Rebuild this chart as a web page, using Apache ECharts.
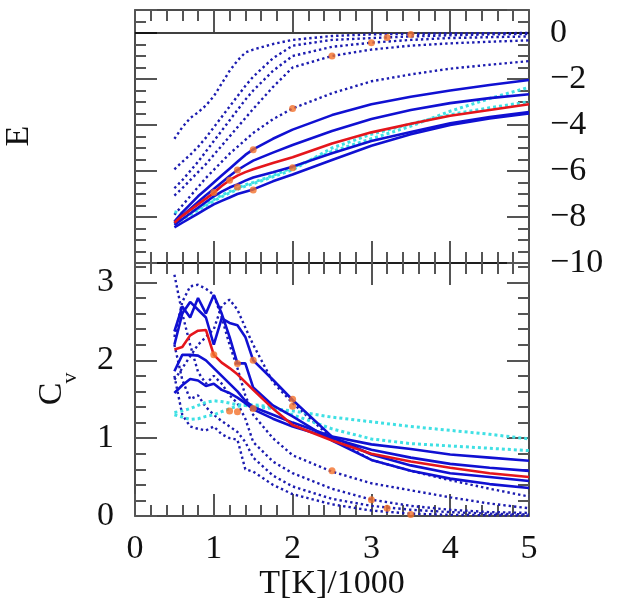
<!DOCTYPE html>
<html lang="en">
<head>
<meta charset="UTF-8">
<title>E and Cv vs T</title>
<script src="https://cdn.jsdelivr.net/npm/echarts@6/dist/echarts.min.js"></script>
<style>
    * { margin: 0; padding: 0; }
    #chart { width: 633px; height: 616px; background: #fff; }
</style>
</head>
<body>
<div id="chart"></div>
<script>
    // temperatures (T[K]/1000)
    var xs = [0.5, 0.6, 0.7, 0.8, 0.9, 1.0, 1.1, 1.2, 1.3, 1.4, 1.5, 1.75, 2.0, 2.5, 3.0, 3.5, 4.0, 4.5, 5.0];

    // energy, top panel
    var eDot1 = [-4.6, -4.1, -3.7, -3.45, -3.15, -2.75, -2.2, -1.65, -1.2, -0.85, -0.72, -0.48, -0.3, -0.13, -0.06, -0.04, -0.02, -0.01, 0.0];
    var eDot2 = [-5.93, -5.6, -5.3, -4.95, -4.55, -4.1, -3.65, -3.2, -2.75, -2.3, -1.9, -1.1, -0.55, -0.3, -0.22, -0.15, -0.1, -0.06, -0.04];
    var eDot3 = [-6.75, -6.4, -6.0, -5.6, -5.15, -4.7, -4.25, -3.8, -3.35, -2.9, -2.5, -1.65, -1.0, -0.6, -0.42, -0.3, -0.22, -0.18, -0.15];
    var eDot4 = [-7.07, -6.75, -6.4, -6.05, -5.7, -5.3, -4.9, -4.5, -4.1, -3.7, -3.3, -2.35, -1.5, -1.0, -0.72, -0.55, -0.45, -0.38, -0.32];
    var eDot5 = [-7.9, -7.5, -7.1, -6.7, -6.3, -5.95, -5.6, -5.25, -4.95, -4.65, -4.35, -3.75, -3.28, -2.62, -2.1, -1.8, -1.55, -1.38, -1.22];
    var eSol1 = [-8.2, -7.8, -7.45, -7.1, -6.8, -6.5, -6.2, -5.9, -5.6, -5.3, -5.06, -4.6, -4.2, -3.57, -3.1, -2.77, -2.5, -2.26, -2.04];
    var eSol2 = [-8.27, -7.95, -7.65, -7.35, -7.05, -6.78, -6.5, -6.22, -5.96, -5.75, -5.55, -5.2, -4.87, -4.26, -3.74, -3.35, -3.05, -2.83, -2.66];
    var eSol3 = [-8.35, -8.1, -7.85, -7.6, -7.35, -7.1, -6.9, -6.72, -6.58, -6.42, -6.28, -6.05, -5.81, -5.23, -4.7, -4.3, -3.92, -3.65, -3.44];
    var eSol4 = [-8.45, -8.25, -8.05, -7.85, -7.65, -7.45, -7.3, -7.15, -7.0, -6.9, -6.8, -6.45, -6.15, -5.52, -4.9, -4.4, -4.0, -3.72, -3.5];
    var eRed = [-8.25, -7.95, -7.7, -7.45, -7.2, -6.95, -6.65, -6.4, -6.2, -6.05, -5.92, -5.65, -5.4, -4.8, -4.32, -3.95, -3.6, -3.35, -3.1];
    var eCyan1 = [-7.77, -7.85, -7.8, -7.65, -7.45, -7.25, -7.05, -6.9, -6.75, -6.6, -6.5, -6.2, -5.85, -5.15, -4.6, -4.05, -3.4, -2.85, -2.36];
    var eCyan2 = [-8.3, -8.1, -7.9, -7.7, -7.5, -7.3, -7.12, -6.95, -6.8, -6.66, -6.55, -6.25, -5.95, -5.0, -4.4, -3.95, -3.55, -3.25, -2.99];

    // specific heat, bottom panel
    var cvDot1 = [1.8, 1.3, 1.15, 1.12, 1.1, 1.15, 1.05, 1.0, 0.98, 0.6, 0.57, 0.4, 0.28, 0.15, 0.07, 0.03, 0.015, 0.01, 0.005];
    var cvDot2 = [2.2, 1.75, 1.5, 1.55, 1.4, 1.3, 1.22, 1.15, 1.08, 0.95, 0.75, 0.52, 0.38, 0.22, 0.13, 0.08, 0.05, 0.03, 0.02];
    var cvDot3 = [3.1, 2.6, 2.2, 1.85, 1.7, 1.8, 1.7, 1.55, 1.45, 1.25, 0.95, 0.7, 0.55, 0.35, 0.21, 0.13, 0.08, 0.05, 0.04];
    var cvDot4 = [2.3, 2.75, 2.95, 2.97, 2.92, 2.84, 2.55, 2.2, 1.9, 1.55, 1.3, 1.0, 0.78, 0.57, 0.42, 0.33, 0.24, 0.16, 0.1];
    var cvDot5 = [1.75, 1.9, 2.05, 2.2, 2.3, 2.4, 2.7, 2.78, 2.65, 2.42, 2.2, 1.72, 1.45, 1.0, 0.72, 0.58, 0.46, 0.35, 0.25];
    var cvSolA = [2.37, 2.69, 2.55, 2.8, 2.6, 2.84, 2.6, 2.3, 1.96, 1.96, 1.65, 1.42, 1.28, 0.97, 0.72, 0.58, 0.48, 0.41, 0.36];
    var cvSolB = [2.2, 2.6, 2.75, 2.65, 2.55, 2.2, 2.54, 2.48, 2.45, 2.3, 2.0, 1.75, 1.49, 1.02, 0.79, 0.65, 0.55, 0.5, 0.45];
    var cvSolC = [1.86, 2.07, 2.07, 2.06, 2.0, 1.9, 1.8, 1.7, 1.6, 1.48, 1.4, 1.3, 1.2, 1.02, 0.92, 0.86, 0.79, 0.75, 0.71];
    var cvSolD = [1.58, 1.68, 1.76, 1.74, 1.67, 1.7, 1.62, 1.58, 1.52, 1.45, 1.37, 1.25, 1.15, 1.0, 0.85, 0.75, 0.67, 0.62, 0.58];
    var cvRed = [2.14, 2.17, 2.32, 2.38, 2.39, 2.07, 1.97, 1.9, 1.82, 1.72, 1.62, 1.38, 1.17, 0.97, 0.8, 0.7, 0.62, 0.55, 0.5];
    var cvCyan1 = [1.33, 1.35, 1.38, 1.42, 1.46, 1.48, 1.47, 1.45, 1.43, 1.42, 1.41, 1.38, 1.35, 1.27, 1.21, 1.15, 1.1, 1.05, 0.99];
    var cvCyan2 = [1.3, 1.27, 1.24, 1.25, 1.28, 1.3, 1.34, 1.38, 1.41, 1.42, 1.43, 1.4, 1.3, 1.12, 0.99, 0.93, 0.9, 0.87, 0.84];

    // marked points (orange)
    var markE = [[3.5, -0.06], [3.2, -0.2], [3.0, -0.42], [2.5, -1.0], [2.0, -3.28], [1.5, -5.08],
        [1.3, -5.96], [1.2, -6.4], [1.0, -6.94], [1.3, -6.7], [1.5, -6.83], [2.0, -5.86]];
    var markCv = [[1.0, 2.07], [1.3, 1.96], [1.5, 2.0], [2.0, 1.5], [2.0, 1.41], [1.2, 1.35],
        [1.3, 1.34], [1.5, 1.38], [2.5, 0.58], [3.0, 0.21], [3.2, 0.1], [3.5, 0.02]];

    var FONT = '"Liberation Serif", "DejaVu Serif", serif';
    var tickStyle = { color: '#555', width: 2 };
    var frameStyle = { color: '#111', width: 1.5 };

    function pairs(ys) {
        return xs.map(function (x, i) { return [x, ys[i]]; });
    }

    // x axes: ticks inside, minor ticks every 0.2
    function xAx(grid, pos, labels) {
        return {
            type: 'value', gridIndex: grid, position: pos, min: 0, max: 5, interval: 1,
            axisLine: { show: true, onZero: false, lineStyle: frameStyle },
            axisTick: { show: true, inside: true, length: 22, lineStyle: tickStyle },
            minorTick: { show: true, splitNumber: 5, length: 11, lineStyle: tickStyle },
            splitLine: { show: false },
            axisLabel: { show: labels, margin: 16, fontFamily: FONT, fontSize: 34, color: '#111' },
            name: labels ? 'T[K]/1000' : '', nameLocation: 'middle', nameGap: 48,
            nameTextStyle: { fontFamily: FONT, fontSize: 34, color: '#111' }
        };
    }

    // y axes: major axis with line + long ticks, minor axis with short ticks only
    function yAx(grid, pos, min, max, step, isMinor, fmt) {
        return {
            type: 'value', gridIndex: grid, position: pos, min: min, max: max, interval: step,
            axisLine: { show: !isMinor, onZero: false, lineStyle: frameStyle },
            axisTick: { show: true, inside: true, length: isMinor ? 11 : 22, lineStyle: tickStyle },
            splitLine: { show: false },
            axisLabel: fmt ? { show: true, margin: 21, fontFamily: FONT, fontSize: 34, color: '#111', formatter: fmt } : { show: false }
        };
    }

    function fmtE(v) {
        if (v > 0 || Math.abs(v % 2) > 1e-6) return '';
        return v === 0 ? '0' : '\u2212' + Math.round(-v);
    }
    function fmtCv(v) {
        return Math.abs(v - Math.round(v)) < 1e-6 ? String(Math.round(v)) : '';
    }

    var styles = {
        dot: { color: '#1c1cb0', width: 2.4, type: [2.4, 3] },
        cyan: { color: '#3fe0e4', width: 3, type: [3, 3] },
        solid: { color: '#1010d2', width: 2.6, type: 'solid' },
        red: { color: '#e5161c', width: 2.6, type: 'solid' }
    };

    function line(ys, st, xi, yi) {
        return {
            type: 'line', xAxisIndex: xi, yAxisIndex: yi, data: pairs(ys),
            symbol: 'none', lineStyle: styles[st], itemStyle: { color: styles[st].color },
            silent: true, z: st === 'red' ? 4 : (st === 'solid' ? 3 : 2)
        };
    }

    var series = [];
    [eDot1, eDot2, eDot3, eDot4, eDot5].forEach(function (d) { series.push(line(d, 'dot', 0, 0)); });
    [eCyan1, eCyan2].forEach(function (d) { series.push(line(d, 'cyan', 0, 0)); });
    [eSol1, eSol2, eSol3, eSol4].forEach(function (d) { series.push(line(d, 'solid', 0, 0)); });
    series.push(line(eRed, 'red', 0, 0));

    [cvDot1, cvDot2, cvDot3, cvDot4, cvDot5].forEach(function (d) { series.push(line(d, 'dot', 2, 4)); });
    [cvCyan1, cvCyan2].forEach(function (d) { series.push(line(d, 'cyan', 2, 4)); });
    [cvSolA, cvSolB, cvSolC, cvSolD].forEach(function (d) { series.push(line(d, 'solid', 2, 4)); });
    series.push(line(cvRed, 'red', 2, 4));

    // E = 0 reference line
    series.push({
        type: 'line', xAxisIndex: 0, yAxisIndex: 0, data: [[0, 0], [5, 0]], symbol: 'none',
        lineStyle: { color: '#000', width: 1.3 }, silent: true, z: 1
    });

    series.push({ type: 'scatter', xAxisIndex: 0, yAxisIndex: 0, data: markE, symbolSize: 7, itemStyle: { color: '#f2702a' }, z: 6 });
    series.push({ type: 'scatter', xAxisIndex: 2, yAxisIndex: 4, data: markCv, symbolSize: 7, itemStyle: { color: '#f2702a' }, z: 6 });

    var chart = echarts.init(document.getElementById('chart'));
    chart.setOption({
        animation: false,
        backgroundColor: '#fff',
        grid: [
            { left: 135, width: 394, top: 10, height: 253 },
            { left: 135, width: 394, top: 263, height: 253 }
        ],
        xAxis: [xAx(0, 'bottom', false), xAx(0, 'top', false), xAx(1, 'bottom', true), xAx(1, 'top', false)],
        yAxis: [
            yAx(0, 'left', -10, 1, 2, false, null),
            yAx(0, 'left', -10, 1, 0.5, true, null),
            yAx(0, 'right', -10, 1, 2, false, fmtE),
            yAx(0, 'right', -10, 1, 0.5, true, null),
            yAx(1, 'left', 0, 3.25, 1, false, fmtCv),
            yAx(1, 'left', 0, 3.25, 0.2, true, null),
            yAx(1, 'right', 0, 3.25, 1, false, null),
            yAx(1, 'right', 0, 3.25, 0.2, true, null)
        ],
        graphic: [
            { type: 'text', x: 19, y: 136, rotation: Math.PI / 2,
              style: { text: 'E', font: '34px ' + FONT, fill: '#111', align: 'center', verticalAlign: 'middle' } },
            { type: 'text', x: 52, y: 394, rotation: Math.PI / 2,
              style: { text: 'C', font: '34px ' + FONT, fill: '#111', align: 'center', verticalAlign: 'middle' } },
            { type: 'text', x: 70, y: 378, rotation: Math.PI / 2,
              style: { text: 'v', font: '22px ' + FONT, fill: '#111', align: 'center', verticalAlign: 'middle' } }
        ],
        series: series
    });
</script>
</body>
</html>
